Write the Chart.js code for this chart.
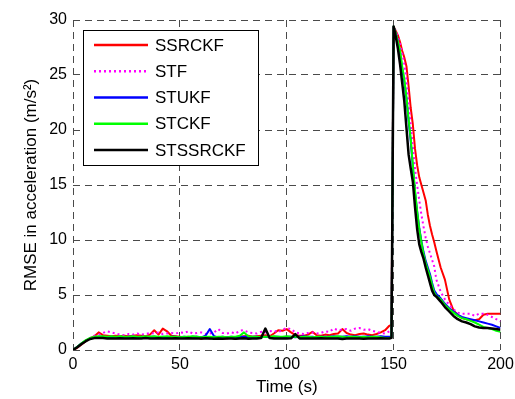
<!DOCTYPE html>
<html lang="en">
<head>
  <meta charset="UTF-8">
  <title>RMSE in acceleration</title>
  <script src="https://cdn.jsdelivr.net/npm/chart.js"></script>
  <style>
    html, body { margin: 0; padding: 0; background: #fff; }
    #wrap { width: 515px; height: 399px; position: relative; }
  </style>
</head>
<body>
  <div id="wrap"><canvas id="rmseChart" width="515" height="399"></canvas></div>

  <script>
    // time axis (s): 2 s steps, 1 s steps around the jump at 150 s
    const time = [
      0, 2, 4, 6, 8, 10, 12, 14, 16, 18, 20, 22, 24, 26, 28, 30, 32, 34, 36, 38,
      40, 42, 44, 46, 48, 50, 52, 54, 56, 58, 60, 62, 64, 66, 68, 70, 72, 74, 76, 78,
      80, 82, 84, 86, 88, 90, 92, 94, 96, 98, 100, 102, 104, 106, 108, 110, 112, 114, 116, 118,
      120, 122, 124, 126, 128, 130, 132, 134, 136, 138, 140, 142, 144, 146,
      148, 149,
      150, 151, 152, 153, 154, 155, 156, 157, 158, 159, 160, 161, 162, 163, 164, 165, 166, 167, 168, 169, 170,
      172, 174, 176, 178, 180, 182, 184, 186, 188, 190, 192, 194, 196, 198, 200
    ];

    const seriesNames = ['SSRCKF', 'STF', 'STUKF', 'STCKF', 'STSSRCKF'];

    const ssrckf = [
      0, 0.2, 0.5, 0.8, 1.05, 1.25, 1.6, 1.35, 1.3, 1.25, 1.3, 1.25, 1.3, 1.25, 1.3, 1.35, 1.3, 1.25, 1.4, 1.8,
      1.4, 1.95, 1.7, 1.3, 1.25, 1.2, 1.15, 1.2, 1.1, 1.2, 1.0, 1.15, 1.05, 1.2, 1.0, 1.1, 1.05, 1.15, 1.0, 1.2,
      1.25, 1.3, 1.2, 1.25, 1.3, 1.35, 1.25, 1.5, 1.8, 1.75, 1.9, 1.6, 1.35, 1.3, 1.3, 1.4, 1.65, 1.35, 1.3, 1.4,
      1.35, 1.45, 1.5, 1.9, 1.55, 1.4, 1.35, 1.45, 1.5, 1.4, 1.35, 1.45, 1.6, 1.8,
      2.2, 2.3,
      29.4, 29.0, 28.6, 28.0, 27.2, 26.6, 25.8, 24.0, 22.0, 20.5, 18.3, 16.8, 15.7, 15.0, 14.3, 13.6, 12.3, 11.3, 10.5, 9.8, 9.0,
      7.5, 6.4, 4.6, 3.6, 3.2, 2.9, 2.8, 2.7, 2.7, 2.8, 3.2, 3.3, 3.3, 3.3, 3.3
    ];

    const stf = [
      0, 0.25, 0.55, 0.85, 1.1, 1.3, 1.4, 1.55, 1.7, 1.6, 1.5, 1.4, 1.35, 1.45, 1.4, 1.5, 1.4, 1.45, 1.55, 1.5,
      1.6, 1.45, 1.5, 1.55, 1.5, 1.6, 1.55, 1.7, 1.5, 1.55, 1.6, 1.45, 1.5, 1.6, 1.9, 1.55, 1.5, 1.6, 1.5, 1.75,
      1.8, 1.6, 1.55, 1.5, 1.65, 1.6, 1.7, 1.75, 1.6, 1.85, 2.0, 1.9, 1.6, 1.5, 1.45, 1.55, 1.6, 1.5, 1.55, 1.7,
      1.65, 1.95, 1.8, 1.85, 1.9, 1.75, 1.95, 2.0, 1.85, 1.9, 1.75, 1.65, 1.55, 1.5,
      1.7, 2.0,
      29.4, 29.0, 28.5, 27.8, 27.0, 26.0, 24.6, 22.5, 20.5, 18.5, 16.5, 15.0, 13.6, 12.3, 11.2, 10.2, 9.4, 8.8, 8.2, 7.6, 6.4,
      5.3, 4.6, 4.1, 3.7, 3.4, 3.3, 3.3, 3.3, 3.1, 3.3, 3.3, 3.2, 3.0, 2.8, 2.6
    ];

    const stukf = [
      0, 0.3, 0.6, 0.85, 1.05, 1.15, 1.2, 1.2, 1.15, 1.2, 1.15, 1.2, 1.15, 1.2, 1.2, 1.15, 1.2, 1.15, 1.2, 1.2,
      1.15, 1.2, 1.15, 1.2, 1.2, 1.15, 1.2, 1.15, 1.2, 1.2, 1.15, 1.3, 1.9, 1.25, 1.15, 1.2, 1.15, 1.2, 1.15, 1.2,
      1.2, 1.15, 1.2, 1.2, 1.15, 1.2, 1.15, 1.2, 1.2, 1.15, 1.2, 1.2, 1.15, 1.2, 1.25, 1.2, 1.2, 1.15, 1.2, 1.2,
      1.2, 1.25, 1.2, 1.2, 1.25, 1.2, 1.25, 1.2, 1.2, 1.25, 1.2, 1.2, 1.25, 1.2,
      1.2, 1.2,
      29.4, 28.8, 28.0, 27.0, 25.6, 24.4, 22.8, 20.8, 19.0, 16.6, 14.4, 12.6, 11.1, 9.9, 8.9, 8.1, 7.5, 6.9, 6.1, 5.4, 5.1,
      4.7, 4.2, 3.8, 3.5, 3.2, 3.0, 2.9, 2.8, 2.7, 2.6, 2.5, 2.4, 2.3, 2.15, 2.0
    ];

    const stckf = [
      0, 0.3, 0.6, 0.9, 1.1, 1.2, 1.25, 1.25, 1.2, 1.25, 1.2, 1.25, 1.2, 1.2, 1.25, 1.2, 1.2, 1.25, 1.2, 1.25,
      1.2, 1.2, 1.25, 1.2, 1.2, 1.15, 1.2, 1.2, 1.25, 1.2, 1.15, 1.2, 1.2, 1.15, 1.2, 1.2, 1.15, 1.2, 1.2, 1.3,
      1.6, 1.25, 1.2, 1.2, 1.15, 1.2, 1.2, 1.25, 1.2, 1.2, 1.25, 1.2, 1.2, 1.15, 1.2, 1.2, 1.15, 1.2, 1.2, 1.15,
      1.2, 1.2, 1.25, 1.2, 1.15, 1.2, 1.2, 1.15, 1.2, 1.15, 1.2, 1.2, 1.15, 1.1,
      1.1, 1.15,
      29.4, 28.8, 28.0, 27.2, 25.8, 24.6, 23.0, 21.0, 19.2, 16.8, 14.5, 12.6, 11.0, 9.8, 8.7, 7.9, 7.3, 6.7, 5.9, 5.2, 4.9,
      4.6, 4.1, 3.7, 3.4, 3.1, 2.9, 2.8, 2.65, 2.5, 2.3, 2.1, 2.0, 1.9, 1.75, 1.65
    ];

    const stssrckf = [
      0, 0.25, 0.55, 0.8, 1.0, 1.08, 1.08, 1.08, 1.05, 1.05, 1.05, 1.06, 1.05, 1.05, 1.06, 1.04, 1.05, 1.08, 1.05, 1.05,
      1.06, 1.05, 1.04, 1.05, 1.06, 1.05, 1.04, 1.06, 1.05, 1.05, 1.04, 1.06, 1.05, 1.03, 1.05, 1.02, 1.05, 1.04, 1.02, 1.05,
      1.06, 1.03, 1.04, 1.05, 1.1, 1.95, 1.1, 1.05, 1.05, 1.05, 1.04, 1.06, 1.45, 1.05, 1.04, 1.05, 1.04, 1.05, 1.06, 1.05,
      1.04, 1.05, 1.04, 1.0, 1.05, 1.04, 1.05, 1.04, 1.02, 1.05, 1.04, 1.05, 1.06, 1.05,
      1.05, 1.1,
      29.4, 28.5, 27.4, 26.0, 24.3, 22.6, 20.2, 17.8, 16.5, 15.3, 13.0, 11.0, 9.6, 8.9, 8.3, 7.5, 6.8, 6.1, 5.4, 5.0, 4.85,
      4.4, 3.9, 3.5, 3.1, 2.8, 2.6, 2.5, 2.35, 2.15, 2.05, 2.0, 2.0, 1.95, 1.9, 1.85
    ];

    const xTicks = [0, 50, 100, 150, 200];
    const yTicks = [0, 5, 10, 15, 20, 25, 30];

    const FONT = "'Liberation Sans', Arial, sans-serif";

    function toPoints(vals) {
      return time.map((t, i) => ({ x: t, y: vals[i] }));
    }

    // legend box drawn inside the plot area, matlab style
    const boxLegend = {
      id: 'boxLegend',
      afterDraw(chart) {
        const ctx = chart.ctx;
        const area = chart.chartArea;
        const x0 = area.left + 10, y0 = area.top + 10;
        const w = 175, h = 135;
        ctx.save();
        ctx.fillStyle = '#fff';
        ctx.fillRect(x0, y0, w, h);
        ctx.strokeStyle = '#000';
        ctx.lineWidth = 1;
        ctx.strokeRect(x0 + 0.5, y0 + 0.5, w, h);
        ctx.font = '17px ' + FONT;
        ctx.textBaseline = 'middle';
        ctx.fillStyle = '#000';
        chart.data.datasets.forEach((ds, i) => {
          const y = y0 + 15 + i * 26.25;
          ctx.beginPath();
          ctx.strokeStyle = ds.borderColor;
          ctx.lineWidth = 2.5;
          ctx.setLineDash(ds.borderDash || []);
          ctx.moveTo(x0 + 11, y);
          ctx.lineTo(x0 + 65, y);
          ctx.stroke();
          ctx.setLineDash([]);
          ctx.fillText(ds.label, x0 + 72, y + 1);
        });
        ctx.restore();
      }
    };

    const colors = ['#ff0000', '#ff00ff', '#0000ff', '#00ff00', '#000000'];
    const values = [ssrckf, stf, stukf, stckf, stssrckf];

    const datasets = seriesNames.map((name, i) => ({
      label: name,
      data: toPoints(values[i]),
      borderColor: colors[i],
      borderWidth: i === 4 ? 2.5 : 2,
      borderDash: i === 1 ? [2, 3] : [],
      borderJoinStyle: 'round',
      pointRadius: 0,
      tension: 0,
      fill: false,
      order: 4 - i
    }));

    new Chart(document.getElementById('rmseChart'), {
      type: 'line',
      data: { datasets: datasets },
      plugins: [boxLegend],
      options: {
        responsive: false,
        animation: false,
        layout: { padding: { top: 20, right: 14.5, bottom: 0, left: 0 } },
        plugins: { legend: { display: false }, tooltip: { enabled: false } },
        scales: {
          x: {
            type: 'linear',
            min: 0, max: 200,
            afterFit: s => { s.height = 49; s.paddingLeft = 0; s.paddingRight = 0; },
            afterBuildTicks: s => { s.ticks = xTicks.map(v => ({ value: v })); },
            ticks: { color: '#000', font: { family: FONT, size: 16 }, padding: 5, maxRotation: 0 },
            grid: { color: '#4a4a4a', lineWidth: 1, drawTicks: false },
            border: { display: false, dash: [7, 5] },
            title: { display: true, text: 'Time (s)', color: '#000', font: { family: FONT, size: 17 }, padding: { top: 0, bottom: 1 } }
          },
          y: {
            min: 0, max: 30,
            afterFit: s => { s.width = 73; s.paddingTop = 0; s.paddingBottom = 0; },
            afterBuildTicks: s => { s.ticks = yTicks.map(v => ({ value: v })); },
            ticks: { color: '#000', font: { family: FONT, size: 16 }, padding: 6 },
            grid: { color: '#4a4a4a', lineWidth: 1, drawTicks: false },
            border: { display: false, dash: [7, 5] },
            title: { display: true, text: 'RMSE in acceleration (m/s\u00b2)', color: '#000', font: { family: FONT, size: 17 }, padding: { top: 21, bottom: 0 } }
          }
        }
      }
    });
  </script>
</body>
</html>
